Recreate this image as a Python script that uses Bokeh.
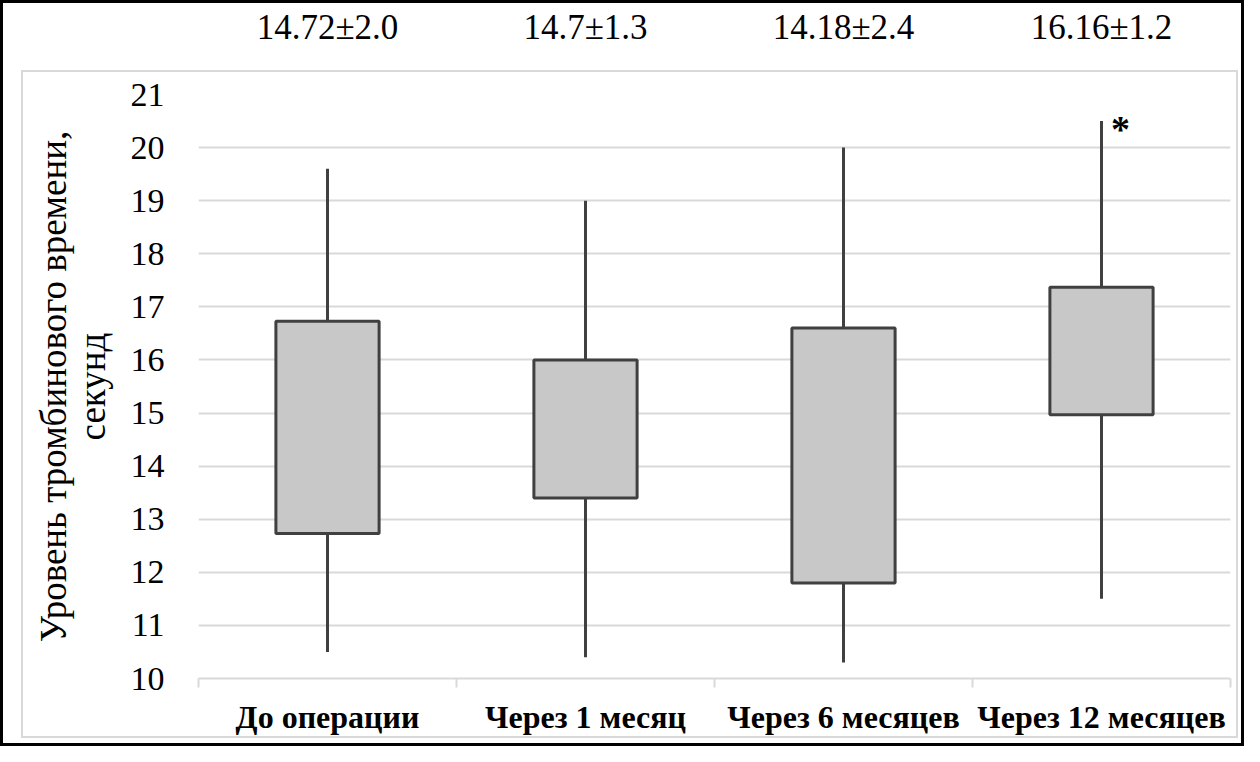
from bokeh.plotting import figure
from bokeh.models import Range1d, FixedTicker, LinearAxis, ColumnDataSource
from bokeh.core.properties import value
from bokeh.embed import file_html
from bokeh.resources import INLINE

# ---- data ----
categories = ["До операции", "Через 1 месяц", "Через 6 месяцев", "Через 12 месяцев"]
whisker_low = [10.5, 10.4, 10.3, 11.5]
q1 = [12.73, 13.4, 11.8, 14.97]
q3 = [16.73, 16.0, 16.6, 17.37]
whisker_high = [19.6, 19.0, 20.0, 20.5]
means = [14.72, 14.7, 14.18, 16.16]
sds = [2.0, 1.3, 2.4, 1.2]
y_ticks = list(range(10, 22))
significant = [False, False, False, True]

FONT = "Liberation Serif"
W, H = 1244, 746
LEFT, TOP = 198, 94
FW, FH = 1032, 584
RIGHT, BOTTOM = W - LEFT - FW, H - TOP - FH

centers = [i + 0.5 for i in range(len(categories))]

p = figure(width=W, height=H, x_range=Range1d(0, len(categories)), y_range=Range1d(10, 21),
           output_backend="svg", toolbar_location=None,
           min_border_left=LEFT, min_border_right=RIGHT,
           min_border_top=TOP, min_border_bottom=BOTTOM)
p.outline_line_color = None
p.background_fill_color = None
p.border_fill_color = None

# outer black frame and light-gray chart-area border drawn as page decoration
g = "linear-gradient(#d9d9d9,#d9d9d9)"
bx, by, bw, bh = 21, 70, 1217, 668
p.styles = {
    "outline": "3px solid black",
    "outline-offset": "-3px",
    "background-color": "white",
    "background-image": ", ".join([g] * 4),
    "background-repeat": "no-repeat",
    "background-size": f"{bw}px 2px, {bw}px 2px, 2px {bh}px, 2px {bh}px",
    "background-position": f"{bx}px {by}px, {bx}px {by + bh - 2}px, {bx}px {by}px, {bx + bw - 2}px {by}px",
}

# grid
p.xgrid.grid_line_color = None
p.ygrid.ticker = FixedTicker(ticks=y_ticks)
p.ygrid.grid_line_color = "#d9d9d9"
p.ygrid.grid_line_width = 2

# x axis
xa = p.xaxis[0]
xa.ticker = FixedTicker(ticks=centers, minor_ticks=list(range(len(categories) + 1)))
xa.major_label_overrides = {c: lab for c, lab in zip(centers, categories)}
xa.major_tick_line_color = None
xa.major_tick_out = 0
xa.major_tick_in = 0
xa.minor_tick_out = 9
xa.minor_tick_in = 0
xa.minor_tick_line_color = "#d9d9d9"
xa.minor_tick_line_width = 2
xa.axis_line_color = "#d9d9d9"
xa.axis_line_width = 2
xa.major_label_text_font = FONT
xa.major_label_text_font_style = "bold"
xa.major_label_text_font_size = "32px"
xa.major_label_text_color = "black"
xa.major_label_standoff = 11

# y axis
ya = p.yaxis[0]
ya.ticker = FixedTicker(ticks=y_ticks)
ya.axis_line_color = None
ya.major_tick_line_color = None
ya.minor_tick_line_color = None
ya.major_tick_out = 0
ya.major_label_text_font = FONT
ya.major_label_text_font_size = "34px"
ya.major_label_text_color = "black"
ya.major_label_standoff = 34
ya.axis_label = "Уровень тромбинового времени,\nсекунд"
ya.axis_label_text_font = FONT
ya.axis_label_text_font_style = "normal"
ya.axis_label_text_font_size = "37px"
ya.axis_label_text_line_height = 0.95
ya.axis_label_text_color = "black"
ya.axis_label_standoff = 15

# mean ± SD labels above each group (top axis)
top_axis = LinearAxis(ticker=FixedTicker(ticks=centers))
top_axis.major_label_overrides = {c: f"{m}±{s:.1f}" for c, m, s in zip(centers, means, sds)}
top_axis.axis_line_color = None
top_axis.major_tick_line_color = None
top_axis.minor_tick_line_color = None
top_axis.major_tick_out = 0
top_axis.major_tick_in = 0
top_axis.major_label_text_font = FONT
top_axis.major_label_text_font_size = "35px"
top_axis.major_label_text_color = "black"
top_axis.major_label_standoff = 48
p.add_layout(top_axis, "above")

src = ColumnDataSource(dict(x=centers, low=whisker_low, q1=q1, q3=q3, high=whisker_high))

# whiskers
p.segment(x0="x", y0="low", x1="x", y1="high", source=src, line_color="#404040", line_width=3)
# boxes
p.vbar(x="x", width=0.4, bottom="q1", top="q3", source=src,
       fill_color="#c8c8c8", line_color="#404040", line_width=3)

# significance marker
sx = [c for c, s in zip(centers, significant) if s]
sy = [h for h, s in zip(whisker_high, significant) if s]
p.text(x=sx, y=sy, text=["*"] * len(sx), text_font=value(FONT), text_font_style="bold",
       text_font_size="38px", text_align="center", text_baseline="alphabetic",
       x_offset=19, y_offset=8, text_color="black")

open("out.html", "w").write(file_html(p, INLINE))
